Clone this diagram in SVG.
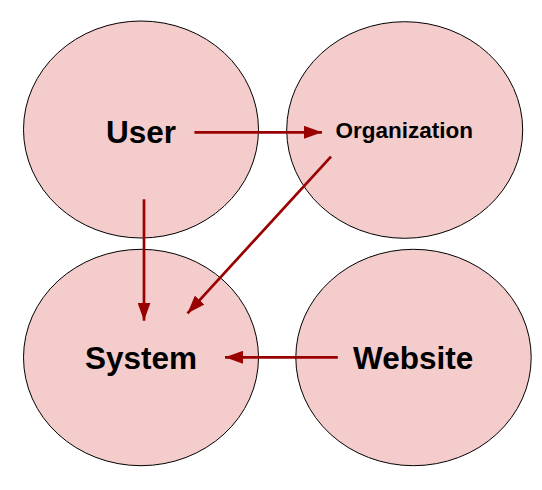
<svg xmlns="http://www.w3.org/2000/svg" width="542" height="490" viewBox="0 0 542 490">
<defs>
<style>
.node ellipse{fill:#f4cccc;stroke:#000;stroke-width:1}
.node text{font-family:"Liberation Sans",Arial,sans-serif;font-weight:bold;text-anchor:middle;fill:#000}
.big{font-size:31.5px}
.small{font-size:22.5px}
.conn line{stroke:#990000;stroke-width:2.7;fill:none}
</style>
<marker id="ah" viewBox="0 0 18 13" refX="18" refY="6.5" markerWidth="18" markerHeight="13" markerUnits="userSpaceOnUse" orient="auto">
<path d="M0,0 L18,6.5 L0,13 Z" fill="#990000"/>
</marker>
</defs>
<rect width="542" height="490" fill="#fff"/>
<g id="user" class="node">
<ellipse cx="141" cy="129.5" rx="117.5" ry="108.5"/>
<text class="big" x="141" y="142.5">User</text>
</g>
<g id="organization" class="node">
<ellipse cx="404.7" cy="130" rx="118" ry="108.3"/>
<text class="small" x="404.3" y="138.3">Organization</text>
</g>
<g id="system" class="node">
<ellipse cx="141" cy="357.5" rx="117.5" ry="108.2"/>
<text class="big" x="141" y="369">System</text>
</g>
<g id="website" class="node">
<ellipse cx="413.5" cy="357.5" rx="117.7" ry="108.2"/>
<text class="big" x="413.2" y="369">Website</text>
</g>
<g id="connectors" class="conn">
<line x1="194.4" y1="132.3" x2="322" y2="132.3" marker-end="url(#ah)"/>
<line x1="144" y1="199.3" x2="144" y2="320.7" marker-end="url(#ah)"/>
<line x1="331" y1="156.7" x2="187.5" y2="313.3" marker-end="url(#ah)"/>
<line x1="337.8" y1="357.3" x2="225" y2="357.3" marker-end="url(#ah)"/>
</g>
</svg>
